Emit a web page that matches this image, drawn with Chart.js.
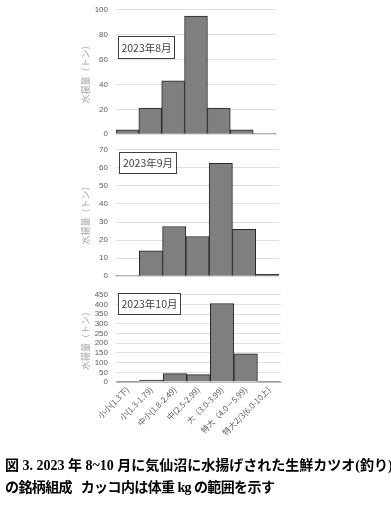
<!DOCTYPE html>
<html><head><meta charset="utf-8">
<script src="https://cdn.jsdelivr.net/npm/chart.js@4.4.0/dist/chart.umd.min.js"></script>
<style>
html,body{margin:0;padding:0;background:#fff;width:391px;height:505px;overflow:hidden;}
canvas{position:absolute;left:0;}
#cap{position:absolute;left:5px;top:455px;font-family:"Liberation Serif","Noto Sans CJK JP",serif;font-weight:bold;font-size:14px;line-height:22px;color:#000;white-space:nowrap;}
#l2{letter-spacing:-0.6px;}
</style></head><body>
<canvas id="c1" style="top:-3px" width="391" height="150"></canvas>
<canvas id="c2" style="top:137px" width="391" height="152"></canvas>
<canvas id="c3" style="top:282px" width="391" height="160"></canvas>
<div id="cap">図 3. 2023 年 8~10 月に気仙沼に水揚げされた生鮮カツオ(釣り)<br><span id="l2">の銘柄組成&nbsp;&nbsp; カッコ内は体重 kg の範囲を示す</span></div>
<script>
const categories = ["小小(1.3下)","小(1.3-1.79)","中小(1.8-2.49)","中(2.5-2.99)","大（3.0-3.99)","特大（4.0－5.99)","特大2/3(6.0-10上)"];
const aug = [3.5, 21, 43, 95, 21, 3.5, 0.5];
const sep = [0.3, 14, 27.5, 22, 62.5, 26, 1];
const oct = [1, 10, 43, 38, 405, 145, 1];
const titles = ["2023年8月","2023年9月","2023年10月"];
const yTitle = "水揚量（トン）";

const boxPlugin = {
  id:'box',
  afterDraw(chart, args, o){
    const ctx = chart.ctx;
    ctx.save();
    ctx.fillStyle='#fff';
    ctx.fillRect(o.x,o.y,o.w,o.h);
    ctx.strokeStyle='#404040';ctx.lineWidth=1;
    ctx.strokeRect(o.x+0.5,o.y+0.5,o.w,o.h);
    ctx.fillStyle='#404040';
    ctx.font='10.5px "Noto Sans CJK JP", sans-serif';
    ctx.textAlign='center';ctx.textBaseline='middle';
    ctx.fillText(o.text,o.x+o.w/2+0.5,o.y+o.h/2+1);
    ctx.restore();
  }
};

function make(id, data, max, step, showX, pad, box, xh){
  new Chart(document.getElementById(id),{
    type:'bar',
    data:{labels:categories,datasets:[{data:data,backgroundColor:'#7f7f7f',borderColor:'#262626',borderWidth:1,barPercentage:1,categoryPercentage:1}]},
    plugins:[boxPlugin],
    options:{
      responsive:false,animation:false,
      layout:{padding:pad},
      plugins:{legend:{display:false},tooltip:{enabled:false},box:box},
      scales:{
        x:{display:showX,grid:{display:false,drawTicks:false},border:{color:'#bfbfbf'},
           ticks:{autoSkip:false,minRotation:45,maxRotation:45,padding:3,color:'#595959',font:{size:8,family:'"Noto Sans CJK JP", sans-serif'}},
           afterFit(s){ if(showX) s.height=xh; }},
        y:{min:0,max:max,
           ticks:{autoSkip:false,stepSize:step,padding:8,color:'#595959',font:{size:8,family:'"Liberation Sans", sans-serif'}},
           grid:{color:'#e0e0e0',drawTicks:false},border:{display:false},
           title:{display:true,text:yTitle,color:'#a6a6a6',padding:{top:0,bottom:2},font:{size:9,family:'"Noto Sans CJK JP", sans-serif'}},
           afterFit(s){ s.width=36; }}
      }
    }
  });
}
make('c1', aug, 100, 20, false, {left:80,right:115,top:0,bottom:0}, {x:118,y:39,w:56,h:22,text:titles[0]});
make('c2', sep, 70, 10, false, {left:80,right:112,top:0,bottom:0}, {x:119,y:15,w:57,h:21,text:titles[1]});
make('c3', oct, 450, 50, true, {left:80,right:110,top:0,bottom:0}, {x:118,y:11,w:62,h:21,text:titles[2]}, 60);
</script>
</body></html>
